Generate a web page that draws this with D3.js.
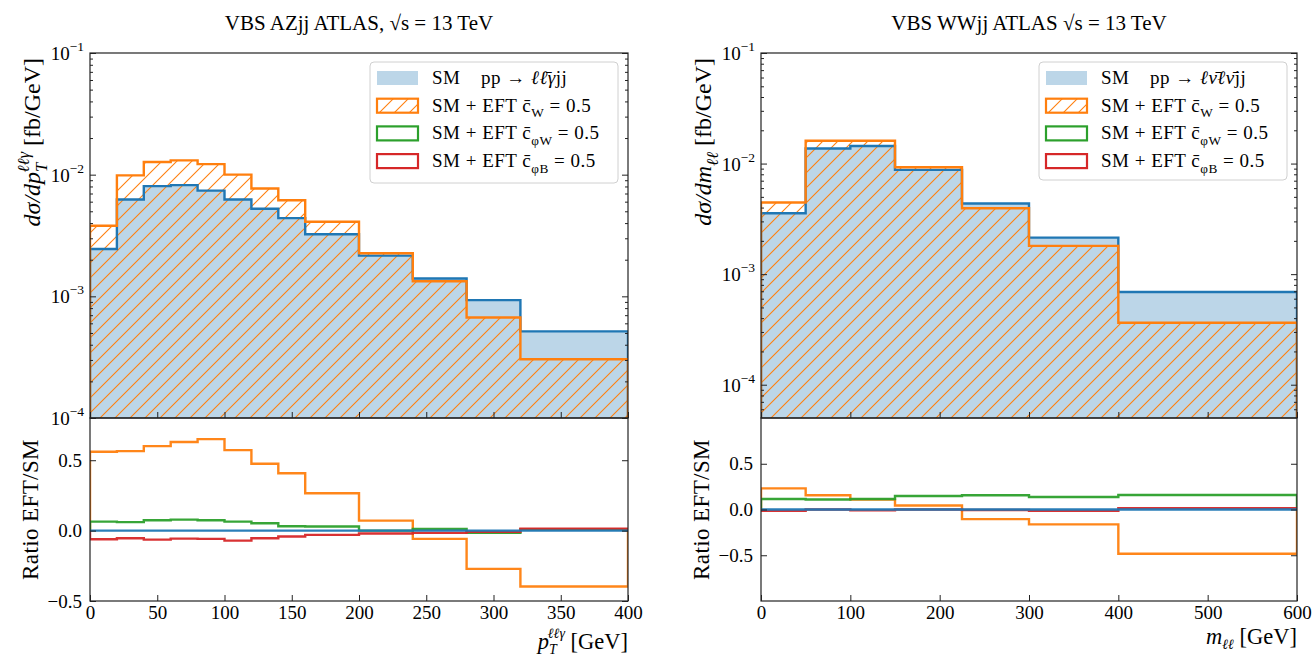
<!DOCTYPE html>
<html>
<head>
<meta charset="utf-8">
<script src="https://cdn.jsdelivr.net/npm/d3@7"></script>
<style>
  body { margin: 0; background: #fff; }
  svg text { font-family: "Liberation Serif", "DejaVu Serif", serif; fill: #000; }
</style>
</head>
<body>
<svg id="chart" width="1312" height="657"></svg>
<script>
// ---- data: VBS AZjj, pT(llγ) ----
var azEdges = [0, 20, 40, 60, 80, 100, 120, 140, 160, 200, 240, 280, 320, 400];
var azSM = [2.45e-3, 6.25e-3, 8.05e-3, 8.2e-3, 7.4e-3, 6.25e-3, 5.24e-3, 4.39e-3, 3.24e-3, 2.16e-3, 1.40e-3, 9.3e-4, 5.15e-4];
var azCW = [3.8e-3, 9.86e-3, 1.27e-2, 1.31e-2, 1.22e-2, 1.0e-2, 7.7e-3, 6.16e-3, 4.1e-3, 2.26e-3, 1.33e-3, 6.7e-4, 3.04e-4];
var azRatioCW = [0.56, 0.565, 0.60, 0.63, 0.65, 0.572, 0.475, 0.407, 0.265, 0.071, -0.059, -0.272, -0.397];
var azRatioCphiW = [0.064, 0.06, 0.074, 0.078, 0.074, 0.064, 0.052, 0.031, 0.029, 0.0, 0.012, -0.016, 0.01];
var azRatioCphiB = [-0.061, -0.054, -0.064, -0.057, -0.059, -0.071, -0.054, -0.042, -0.03, -0.021, -0.016, -0.009, 0.014];
var azXTicks = [0, 50, 100, 150, 200, 250, 300, 350, 400];

// ---- data: VBS WWjj, m(ll) ----
var wwEdges = [0, 50, 100, 150, 225, 300, 400, 600];
var wwSM = [3.55e-3, 1.37e-2, 1.44e-2, 8.77e-3, 4.36e-3, 2.14e-3, 6.9e-4];
var wwCW = [4.45e-3, 1.61e-2, 1.61e-2, 9.27e-3, 3.95e-3, 1.8e-3, 3.63e-4];
var wwRatioCW = [0.231, 0.155, 0.108, 0.043, -0.105, -0.163, -0.484];
var wwRatioCphiW = [0.115, 0.11, 0.115, 0.148, 0.155, 0.137, 0.158];
var wwRatioCphiB = [-0.015, 0.0, -0.01, 0.0, -0.005, -0.015, 0.015];
var wwXTicks = [0, 100, 200, 300, 400, 500, 600];

var logTicks = [1e-4, 1e-3, 1e-2, 1e-1];
var ratioTicks = [-0.5, 0, 0.5];

var C = { blue: "#1f77b4", orange: "#ff7f0e", green: "#2ca02c", red: "#d62728", fill: "#bcd6e8", axis: "#222" };
var tickFont = 19;

var svg = d3.select("#chart");
var defs = svg.append("defs");

// hatch "//" pattern
var hatch = defs.append("pattern")
    .attr("id", "hatch")
    .attr("patternUnits", "userSpaceOnUse")
    .attr("width", 15).attr("height", 15);
hatch.append("path")
    .attr("d", "M-2,2 L2,-2 M0,15 L15,0 M13,17 L17,13")
    .attr("stroke", C.orange).attr("stroke-width", 1.1);

// text with sub/superscripts
function rich(sel, segs, size, subK, supK, scriptK) {
  subK = subK || 0.3; supK = supK || 0.45; scriptK = scriptK || 0.7;
  var cur = 0;
  segs.forEach(function(s) {
    var shift = s.sub ? subK * size : s.sup ? -supK * size : 0;
    var ts = sel.append("tspan").text(s.t).attr("dy", shift - cur);
    if (s.dx) ts.attr("dx", s.dx);
    if (s.it) ts.attr("font-style", "italic");
    if (s.sub || s.sup) ts.attr("font-size", size * scriptK);
    cur = shift;
  });
}

function stepPoints(edges, vals, base) {
  var pts = [[edges[0], base]];
  vals.forEach(function(v, i) {
    pts.push([edges[i], v]);
    pts.push([edges[i + 1], v]);
  });
  pts.push([edges[edges.length - 1], base]);
  return pts;
}

var top0 = 53, H1 = 365, H2 = 183;

function drawPanel(o) {
  var W = o.x1 - o.x0;
  var x = d3.scaleLinear().domain([o.edges[0], o.edges[o.edges.length - 1]]).range([0, W]);
  var y = d3.scaleLog().domain(o.yDomain).range([H1, 0]);
  var yr = d3.scaleLinear().domain(o.rDomain).range([H2, 0]);

  // clip paths
  defs.append("clipPath").attr("id", o.id + "-c1").append("rect").attr("width", W).attr("height", H1);
  defs.append("clipPath").attr("id", o.id + "-c2").append("rect").attr("width", W).attr("height", H2);

  // ---- top panel ----
  var g = svg.append("g").attr("transform", "translate(" + o.x0 + "," + top0 + ")");
  var gc = g.append("g").attr("clip-path", "url(#" + o.id + "-c1)");
  var line = d3.line().x(function(d) { return x(d[0]); }).y(function(d) { return y(d[1]); });
  var base = o.yDomain[0] / 3;

  gc.append("path").attr("d", line(stepPoints(o.edges, o.sm, base)) + "Z").attr("fill", C.fill);
  gc.append("path").attr("d", line(stepPoints(o.edges, o.cw, base)) + "Z").attr("fill", "url(#hatch)");
  gc.append("path").attr("d", line(stepPoints(o.edges, o.sm, base))).attr("fill", "none")
    .attr("stroke", C.blue).attr("stroke-width", 2.4);
  gc.append("path").attr("d", line(stepPoints(o.edges, o.cw, base))).attr("fill", "none")
    .attr("stroke", C.orange).attr("stroke-width", 2.4);

  // minor log ticks
  var minors = [];
  for (var e = -6; e < 0; e++) {
    for (var k = 2; k <= 9; k++) {
      var v = k * Math.pow(10, e);
      if (v > o.yDomain[0] && v < o.yDomain[1]) minors.push(v);
    }
  }
  var majors = logTicks.filter(function(d) { return d >= o.yDomain[0]; });
  function styleAxis(a) {
    a.select(".domain").remove();
    a.selectAll(".tick line").attr("stroke", C.axis).attr("stroke-width", 1);
    a.selectAll(".tick text").attr("font-size", tickFont).attr("font-family", "Liberation Serif");
  }
  g.append("g").call(d3.axisLeft(y).tickValues(majors).tickSize(-6).tickFormat("")).call(styleAxis);
  g.append("g").call(d3.axisLeft(y).tickValues(minors).tickSize(-3).tickFormat("")).call(styleAxis);
  g.append("g").attr("transform", "translate(" + W + ",0)")
    .call(d3.axisRight(y).tickValues(majors).tickSize(-6).tickFormat("")).call(styleAxis);
  g.append("g").attr("transform", "translate(" + W + ",0)")
    .call(d3.axisRight(y).tickValues(minors).tickSize(-3).tickFormat("")).call(styleAxis);
  g.append("g").attr("transform", "translate(0," + H1 + ")")
    .call(d3.axisBottom(x).tickValues(o.xTicks).tickSize(-6).tickFormat("")).call(styleAxis);

  // log tick labels 10^n
  majors.forEach(function(t) {
    var tx = g.append("text").attr("x", -6).attr("y", y(t) + 7).attr("text-anchor", "end").attr("font-size", tickFont);
    tx.append("tspan").text("10");
    tx.append("tspan").text("\u2212" + Math.round(-Math.log10(t))).attr("dy", -9).attr("font-size", 13.5);
  });

  g.append("rect").attr("width", W).attr("height", H1).attr("fill", "none")
    .attr("stroke", C.axis).attr("stroke-width", 1.2);

  // legend
  var lg = g.append("g").attr("transform", "translate(" + (W - 258) + ",9)");
  lg.append("rect").attr("width", 248).attr("height", o.legendH).attr("rx", 4)
    .attr("fill", "#fff").attr("fill-opacity", 0.8).attr("stroke", "#d0d0d0");
  var rows = [
    { fill: C.fill, stroke: "none" },
    { fill: "url(#hatch)", stroke: C.orange },
    { fill: "#fff", stroke: C.green },
    { fill: "#fff", stroke: C.red }
  ];
  rows.forEach(function(r, i) {
    var cy = 16 + i * 27.7;
    lg.append("rect").attr("x", 7).attr("y", cy - 7).attr("width", 41).attr("height", 14)
      .attr("fill", r.fill).attr("stroke", r.stroke).attr("stroke-width", r.stroke === "none" ? 0 : 2.2);
    var t = lg.append("text").attr("x", 62).attr("y", cy + 6).attr("font-size", 19).attr("letter-spacing", 0.5);
    if (i === 0) {
      t.text("SM");
      var t2 = lg.append("text").attr("x", 111).attr("y", cy + 6).attr("font-size", 19).attr("letter-spacing", 0.5);
      rich(t2, o.processSegs, 19);
    } else {
      var sub = ["W", "\u03c6W", "\u03c6B"][i - 1];
      rich(t, [{ t: "SM + EFT c\u0304" }, { t: sub, sub: 1 }, { t: " = 0.5" }], 19);
    }
  });

  // title and y label
  svg.append("text").attr("x", o.titleX).attr("y", 30).attr("text-anchor", "middle")
    .attr("font-size", 21).text(o.title);
  var yl = svg.append("text").attr("text-anchor", "end").attr("font-size", 24)
    .attr("transform", "translate(" + (o.x0 - 50) + "," + (top0 + 5) + ") rotate(-90)");
  rich(yl, o.ylabSegs, 24);

  // ---- ratio panel ----
  var r = svg.append("g").attr("transform", "translate(" + o.x0 + "," + (top0 + H1) + ")");
  var rc = r.append("g").attr("clip-path", "url(#" + o.id + "-c2)");
  var rline = d3.line().x(function(d) { return x(d[0]); }).y(function(d) { return yr(d[1]); });
  var zeros = o.edges.slice(1).map(function() { return 0; });
  [[o.rCW, C.orange], [o.rPhiW, C.green], [o.rPhiB, C.red], [zeros, C.blue]].forEach(function(s) {
    rc.append("path").attr("d", rline(stepPoints(o.edges, s[0], 0))).attr("fill", "none")
      .attr("stroke", s[1]).attr("stroke-width", 2.4).attr("stroke-opacity", 0.95);
  });

  r.append("g").call(d3.axisLeft(yr).tickValues(ratioTicks).tickSize(-6).tickPadding(8)
    .tickFormat(d3.format(".1f"))).call(styleAxis);
  r.append("g").attr("transform", "translate(" + W + ",0)")
    .call(d3.axisRight(yr).tickValues(ratioTicks).tickSize(-6).tickFormat("")).call(styleAxis);
  r.append("g").attr("transform", "translate(0," + H2 + ")")
    .call(d3.axisBottom(x).tickValues(o.xTicks).tickSize(-6).tickPadding(5).tickFormat(d3.format("d"))).call(styleAxis);
  r.append("rect").attr("width", W).attr("height", H2).attr("fill", "none")
    .attr("stroke", C.axis).attr("stroke-width", 1.2);

  var rl = svg.append("text").attr("text-anchor", "middle").attr("font-size", 23).attr("letter-spacing", 0.4)
    .attr("transform", "translate(" + (o.x0 - 52) + "," + (top0 + H1 + H2 / 2) + ") rotate(-90)");
  rl.text("Ratio EFT/SM");

  var xl = svg.append("text").attr("x", o.x1).attr("y", o.xlabY).attr("text-anchor", "end").attr("font-size", 22.5);
  rich(xl, o.xlabSegs, 22.5, 0.2, 0.5, 0.62);
}

drawPanel({
  id: "az", x0: 90, x1: 628,
  edges: azEdges, sm: azSM, cw: azCW,
  rCW: azRatioCW, rPhiW: azRatioCphiW, rPhiB: azRatioCphiB,
  xTicks: azXTicks, yDomain: [1e-4, 0.1], rDomain: [-0.5, 0.8],
  title: "VBS AZjj ATLAS, \u221As = 13 TeV", titleX: 359,
  legendH: 121,
  processSegs: [{ t: "pp \u2192 " }, { t: "\u2113\u2113\u0304\u03b3", it: 1 }, { t: "jj" }],
  ylabSegs: [{ t: "d\u03c3/dp", it: 1 }, { t: "T", it: 1, sub: 1 }, { t: "\u2113\u2113\u03b3", it: 1, sup: 1, dx: -10 }, { t: " [fb/GeV]" }],
  xlabSegs: [{ t: "p", it: 1 }, { t: "T", it: 1, sub: 1 }, { t: "\u2113\u2113\u03b3", it: 1, sup: 1, dx: -9 }, { t: " [GeV]" }],
  xlabY: 649
});

drawPanel({
  id: "ww", x0: 761, x1: 1297,
  edges: wwEdges, sm: wwSM, cw: wwCW,
  rCW: wwRatioCW, rPhiW: wwRatioCphiW, rPhiB: wwRatioCphiB,
  xTicks: wwXTicks, yDomain: [5e-5, 0.1], rDomain: [-1, 1],
  title: "VBS WWjj ATLAS  \u221As = 13 TeV", titleX: 1029,
  legendH: 118,
  processSegs: [{ t: "pp \u2192 " }, { t: "\u2113\u03bd\u0304\u2113\u03bd\u0304", it: 1 }, { t: "jj" }],
  ylabSegs: [{ t: "d\u03c3/dm", it: 1 }, { t: "\u2113\u2113", it: 1, sub: 1 }, { t: " [fb/GeV]" }],
  xlabSegs: [{ t: "m", it: 1 }, { t: "\u2113\u2113", it: 1, sub: 1 }, { t: " [GeV]" }],
  xlabY: 644
});
</script>
</body>
</html>
